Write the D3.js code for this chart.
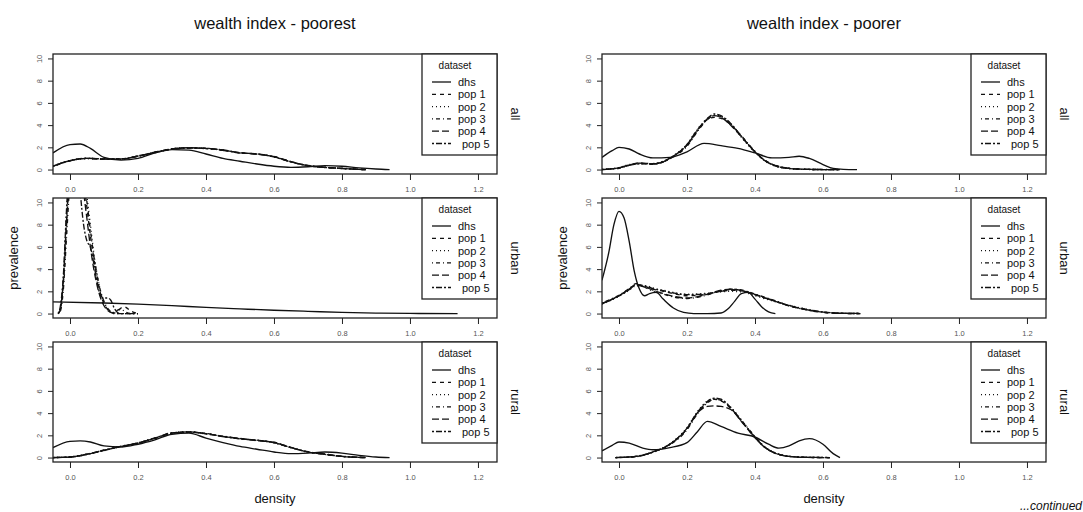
<!DOCTYPE html>
<meta charset="utf-8">
<title>wealth index density</title>
<style>
body { margin: 0; background: #fff; }
text { font-family: "Liberation Sans", Arial, sans-serif; fill: #111; }
.tick text { font-size: 7.5px; fill: #555; }
.tick line { stroke: #222; }
.box { fill: none; stroke: #222; stroke-width: 1.3; }
.curve { fill: none; stroke: #111; stroke-width: 1.35; }
.legend rect { fill: #fff; stroke: #222; stroke-width: 1.3; }
</style>
<svg width="1083" height="512"></svg>
<script src="https://cdnjs.cloudflare.com/ajax/libs/d3/7.8.5/d3.min.js"></script>
<script>

var groups = ["poorest", "poorer"];
var areas = ["all", "urban", "rural"];
var datasets = ["dhs", "pop 1", "pop 2", "pop 3", "pop 4", "pop 5"];
var xTicks = [0, 0.2, 0.4, 0.6, 0.8, 1.0, 1.2];
var yTicks = [0, 2, 4, 6, 8, 10];

// poorest - all
var poorestAllDhsX = [-0.05,0,0.03,0.06,0.1,0.15,0.2,0.25,0.3,0.35,0.4,0.45,0.5,0.55,0.6,0.65,0.7,0.75,0.8,0.85,0.9,0.94];
var poorestAllDhs  = [1.5,2.25,2.3,1.9,1.1,0.85,1.0,1.5,1.8,1.75,1.4,1.0,0.75,0.5,0.3,0.2,0.25,0.35,0.3,0.15,0.05,0];
var poorestAllPopX = [-0.05,0,0.05,0.1,0.15,0.2,0.25,0.3,0.35,0.4,0.45,0.5,0.55,0.6,0.65,0.7,0.75,0.8,0.85,0.87];
var poorestAllPop1 = [0.3,0.8,1.0,0.95,0.95,1.2,1.55,1.85,1.95,1.9,1.75,1.5,1.4,1.15,0.7,0.35,0.2,0.1,0.02,0];
var poorestAllPop2 = [0.32,0.82,0.98,0.97,0.92,1.25,1.5,1.88,1.98,1.87,1.78,1.48,1.42,1.12,0.72,0.33,0.22,0.08,0.03,0];
var poorestAllPop3 = [0.28,0.78,1.02,0.93,0.97,1.18,1.58,1.82,1.93,1.92,1.72,1.53,1.38,1.18,0.68,0.37,0.18,0.12,0.01,0];
var poorestAllPop4 = [0.3,0.8,1.0,0.96,0.94,1.22,1.53,1.86,1.96,1.89,1.76,1.51,1.39,1.16,0.71,0.34,0.21,0.09,0.02,0];
var poorestAllPop5 = [0.31,0.79,1.01,0.94,0.96,1.21,1.56,1.84,1.94,1.91,1.74,1.49,1.41,1.14,0.69,0.36,0.19,0.11,0.02,0];

// poorest - urban
var poorestUrbanDhsX = [-0.05,0.1,0.2,0.3,0.4,0.5,0.6,0.7,0.8,0.9,1.0,1.14];
var poorestUrbanDhs  = [1.05,0.95,0.85,0.72,0.55,0.42,0.3,0.2,0.1,0.04,0.01,0];
var poorestUrbanPopX = [-0.035,-0.03,-0.02,-0.01,0,0.01,0.02,0.03,0.04,0.05,0.06,0.07,0.08,0.09,0.1,0.11,0.12,0.13,0.14,0.15,0.16,0.18,0.2];
var poorestUrbanPop1 = [0,0.2,2.5,8,13,16,17,15,12,9.5,7,5,3.2,1.8,0.9,0.4,0.15,0.05,0.2,0.5,0.6,0.2,0];
var poorestUrbanPop2 = [0,0.3,3,9,14,17,18,16,13,10.5,8,5.5,3.5,2,1,0.4,0.1,0,0,0,0,0,0];
var poorestUrbanPop3 = [0,0.1,2,7,12,15,16,14.5,12.5,10,7.5,5.2,3.4,2,1.1,0.5,0.2,0.1,0.3,0.4,0.2,0,0];
var poorestUrbanPop4 = [0,0.2,2.8,8.5,13.5,16,16.5,14,11,8.5,6,4,2.5,1.4,0.7,0.3,0.1,0,0,0,0,0,0];
var poorestUrbanPop5 = [0,0.4,3.2,9.5,14.5,16,15,11,8,6.5,6,4.5,2.8,1.6,1.4,1.4,1.2,0.5,0.1,0,0,0,0];

// poorest - rural
var poorestRuralDhsX = [-0.05,0,0.03,0.06,0.1,0.15,0.2,0.25,0.3,0.35,0.4,0.45,0.5,0.55,0.6,0.65,0.7,0.75,0.8,0.85,0.9,0.94];
var poorestRuralDhs  = [0.9,1.45,1.5,1.4,1.05,0.95,1.2,1.6,2.1,2.2,1.75,1.35,1.0,0.75,0.5,0.35,0.4,0.5,0.4,0.2,0.05,0];
var poorestRuralPopX = [-0.05,0,0.05,0.1,0.15,0.2,0.25,0.3,0.35,0.4,0.45,0.5,0.55,0.6,0.65,0.7,0.75,0.8,0.85,0.87];
var poorestRuralPop1 = [0,0.05,0.3,0.65,1.0,1.3,1.75,2.2,2.3,2.15,1.9,1.7,1.55,1.35,0.9,0.5,0.3,0.1,0.02,0];
var poorestRuralPop2 = [0,0.06,0.32,0.62,1.03,1.28,1.78,2.18,2.33,2.12,1.93,1.68,1.57,1.32,0.92,0.48,0.32,0.09,0.03,0];
var poorestRuralPop3 = [0,0.04,0.28,0.68,0.97,1.33,1.72,2.23,2.28,2.18,1.88,1.73,1.52,1.38,0.88,0.52,0.28,0.12,0.01,0];
var poorestRuralPop4 = [0,0.05,0.31,0.66,0.99,1.31,1.74,2.21,2.31,2.14,1.91,1.71,1.54,1.36,0.91,0.49,0.31,0.1,0.02,0];
var poorestRuralPop5 = [0,0.05,0.29,0.64,1.01,1.29,1.76,2.19,2.29,2.16,1.89,1.69,1.56,1.34,0.89,0.51,0.29,0.11,0.02,0];

// poorer - all
var poorerAllDhsX = [-0.05,-0.02,0,0.03,0.06,0.1,0.15,0.2,0.25,0.3,0.35,0.4,0.45,0.5,0.53,0.56,0.6,0.63,0.66,0.7];
var poorerAllDhs  = [1.1,1.7,2.0,1.85,1.4,1.05,1.1,1.6,2.35,2.15,1.9,1.5,1.05,1.1,1.2,1.0,0.45,0.1,0.02,0];
var poorerAllPopX = [-0.05,0,0.03,0.06,0.1,0.13,0.16,0.2,0.23,0.26,0.28,0.3,0.33,0.36,0.4,0.43,0.46,0.5,0.55,0.6,0.65];
var poorerAllPop1 = [0,0.15,0.4,0.55,0.5,0.7,1.2,2.2,3.5,4.5,4.7,4.6,4.0,3.0,1.6,0.8,0.35,0.1,0.02,0,0];
var poorerAllPop2 = [0.02,0.18,0.45,0.5,0.55,0.72,1.25,2.3,3.6,4.6,4.9,4.8,4.1,2.9,1.55,0.75,0.3,0.08,0.01,0,0];
var poorerAllPop3 = [0,0.12,0.38,0.58,0.48,0.68,1.15,2.1,3.4,4.5,4.85,4.75,4.0,3.05,1.65,0.82,0.38,0.12,0.03,0.01,0];
var poorerAllPop4 = [0,0.15,0.42,0.6,0.52,0.7,1.2,2.25,3.55,4.55,4.85,4.7,3.95,2.95,1.6,0.78,0.33,0.1,0.02,0,0];
var poorerAllPop5 = [0.01,0.16,0.4,0.52,0.5,0.74,1.22,2.2,3.45,4.6,5.0,4.85,4.1,3.0,1.58,0.8,0.36,0.11,0.02,0,0];

// poorer - urban
var poorerUrbanDhsX = [-0.05,-0.03,-0.015,0,0.015,0.03,0.045,0.06,0.075,0.09,0.11,0.13,0.16,0.19,0.22,0.26,0.3,0.32,0.34,0.36,0.38,0.4,0.42,0.44,0.46];
var poorerUrbanDhs  = [3.0,5.5,8.0,9.2,8.6,6.5,3.8,2.2,1.6,1.8,1.9,1.3,0.5,0.1,0,0,0.05,0.4,1.1,1.8,1.9,1.3,0.6,0.15,0];
var poorerUrbanPopX = [-0.05,-0.02,0,0.03,0.05,0.08,0.1,0.13,0.16,0.2,0.25,0.3,0.33,0.37,0.4,0.45,0.5,0.55,0.6,0.65,0.71];
var poorerUrbanPop1 = [0.9,1.3,1.6,2.2,2.6,2.4,2.2,2.0,1.8,1.6,1.7,2.0,2.1,2.0,1.7,1.2,0.7,0.35,0.12,0.02,0];
var poorerUrbanPop2 = [0.85,1.25,1.55,2.1,2.5,2.5,2.3,2.1,1.9,1.75,1.8,1.95,2.0,1.9,1.6,1.15,0.75,0.4,0.15,0.03,0];
var poorerUrbanPop3 = [0.95,1.35,1.65,2.25,2.7,2.3,2.0,1.75,1.5,1.35,1.6,2.05,2.2,2.05,1.75,1.25,0.72,0.33,0.1,0.02,0];
var poorerUrbanPop4 = [0.9,1.3,1.6,2.2,2.55,2.35,2.1,1.8,1.55,1.4,1.65,2.1,2.2,2.0,1.7,1.2,0.7,0.36,0.13,0.04,0.01];
var poorerUrbanPop5 = [0.88,1.28,1.58,2.15,2.6,2.45,2.25,2.05,1.85,1.7,1.75,2.0,2.15,2.0,1.72,1.22,0.73,0.38,0.14,0.03,0];

// poorer - rural
var poorerRuralDhsX = [-0.05,-0.02,0,0.03,0.07,0.1,0.15,0.2,0.23,0.26,0.3,0.35,0.4,0.44,0.47,0.5,0.53,0.56,0.6,0.63,0.65];
var poorerRuralDhs  = [0.6,1.1,1.4,1.3,0.85,0.7,0.9,1.35,2.3,3.25,2.8,2.2,1.85,1.2,0.85,1.05,1.5,1.7,1.2,0.35,0];
var poorerRuralPopX = [-0.01,0.05,0.1,0.15,0.2,0.23,0.26,0.28,0.3,0.33,0.36,0.4,0.43,0.46,0.5,0.55,0.6,0.62];
var poorerRuralPop1 = [0,0.1,0.5,1.2,2.6,4.0,5.0,5.25,5.1,4.4,3.3,1.8,0.9,0.4,0.1,0.02,0,0];
var poorerRuralPop2 = [0,0.12,0.48,1.25,2.7,4.1,5.1,5.3,5.2,4.5,3.4,1.85,0.95,0.42,0.12,0.03,0.01,0];
var poorerRuralPop3 = [0,0.08,0.52,1.15,2.5,3.9,4.9,5.25,5.15,4.4,3.35,1.9,0.92,0.38,0.1,0.02,0,0];
var poorerRuralPop4 = [0,0.1,0.5,1.2,2.6,4.0,4.6,4.65,4.6,4.3,3.25,1.8,0.88,0.4,0.11,0.02,0,0];
var poorerRuralPop5 = [0,0.11,0.49,1.22,2.65,4.05,5.05,5.35,5.25,4.45,3.3,1.82,0.9,0.41,0.1,0.02,0.01,0];

// lookup table built from the arrays above
var table = {
  poorest: {
    all:   {dhs: [poorestAllDhsX, poorestAllDhs], popX: poorestAllPopX, pops: [poorestAllPop1, poorestAllPop2, poorestAllPop3, poorestAllPop4, poorestAllPop5]},
    urban: {dhs: [poorestUrbanDhsX, poorestUrbanDhs], popX: poorestUrbanPopX, pops: [poorestUrbanPop1, poorestUrbanPop2, poorestUrbanPop3, poorestUrbanPop4, poorestUrbanPop5]},
    rural: {dhs: [poorestRuralDhsX, poorestRuralDhs], popX: poorestRuralPopX, pops: [poorestRuralPop1, poorestRuralPop2, poorestRuralPop3, poorestRuralPop4, poorestRuralPop5]}
  },
  poorer: {
    all:   {dhs: [poorerAllDhsX, poorerAllDhs], popX: poorerAllPopX, pops: [poorerAllPop1, poorerAllPop2, poorerAllPop3, poorerAllPop4, poorerAllPop5]},
    urban: {dhs: [poorerUrbanDhsX, poorerUrbanDhs], popX: poorerUrbanPopX, pops: [poorerUrbanPop1, poorerUrbanPop2, poorerUrbanPop3, poorerUrbanPop4, poorerUrbanPop5]},
    rural: {dhs: [poorerRuralDhsX, poorerRuralDhs], popX: poorerRuralPopX, pops: [poorerRuralPop1, poorerRuralPop2, poorerRuralPop3, poorerRuralPop4, poorerRuralPop5]}
  }
};

// R lty 1..6
var dashes = ["none", "4,4", "1,3", "1,3,4,3", "7,3", "2,2,6,2"];

var svg = d3.select("svg");
var colLeft = [53, 602], boxW = 444, boxH = 120, rowTop = [54, 198, 342];

groups.forEach(function(grp, c) {
  var left = colLeft[c];
  var x = d3.scaleLinear().domain([-0.05, 1.256]).range([left, left + boxW]);

  svg.append("text")
      .attr("x", left + boxW / 2).attr("y", 29)
      .attr("text-anchor", "middle")
      .style("font-size", "16.5px")
      .text("wealth index - " + grp);

  areas.forEach(function(area, r) {
    var top = rowTop[r];
    var y = d3.scaleLinear().domain([-0.4, 10.4]).range([top + boxH, top]);
    var d = table[grp][area];
    var clipId = "clip-" + grp + "-" + area;

    svg.append("clipPath").attr("id", clipId)
      .append("rect").attr("x", left).attr("y", top).attr("width", boxW).attr("height", boxH);

    var gx = svg.append("g")
        .attr("transform", "translate(0," + (top + boxH) + ")")
        .call(d3.axisBottom(x).tickValues(xTicks).tickFormat(d3.format(".1f")).tickSize(6).tickPadding(7));
    gx.select(".domain").remove();

    var gy = svg.append("g")
        .attr("transform", "translate(" + left + ",0)")
        .call(d3.axisLeft(y).tickValues(yTicks).tickSize(5));
    gy.select(".domain").remove();
    gy.selectAll(".tick text")
        .attr("x", null)
        .attr("text-anchor", "middle")
        .attr("transform", "translate(-14,0) rotate(-90)")
        .attr("dy", "0.35em");

    var line = d3.line()
        .x(function(p) { return x(p[0]); })
        .y(function(p) { return y(p[1]); })
        .curve(d3.curveMonotoneX);

    var plot = svg.append("g").attr("clip-path", "url(#" + clipId + ")");

    d.pops.forEach(function(vals, i) {
      plot.append("path")
          .attr("class", "curve")
          .attr("stroke-dasharray", dashes[i + 1])
          .attr("d", line(d.popX.map(function(v, j) { return [v, vals[j]]; })));
    });
    plot.append("path")
        .attr("class", "curve")
        .attr("d", line(d.dhs[0].map(function(v, j) { return [v, d.dhs[1][j]]; })));

    svg.append("rect").attr("class", "box")
        .attr("x", left).attr("y", top).attr("width", boxW).attr("height", boxH);

    // legend
    var lg = svg.append("g").attr("class", "legend")
        .attr("transform", "translate(" + (left + boxW - 75) + "," + top + ")");
    lg.append("rect").attr("width", 75).attr("height", 101);
    lg.append("text").attr("x", 33).attr("y", 15)
        .attr("text-anchor", "middle").style("font-size", "10px").text("dataset");
    datasets.forEach(function(name, i) {
      var cy = 28 + i * 12.3;
      lg.append("line")
          .attr("x1", 10).attr("x2", 29).attr("y1", cy).attr("y2", cy)
          .attr("stroke", "#111").attr("stroke-width", 1.3)
          .attr("stroke-dasharray", dashes[i]);
      lg.append("text").attr("x", i === 5 ? 40 : 36).attr("y", cy + 4)
          .style("font-size", "11px").text(name);
    });

    // strip label
    svg.append("text")
        .attr("transform", "translate(" + (left + boxW + 14) + "," + (top + boxH / 2) + ") rotate(90)")
        .attr("text-anchor", "middle")
        .style("font-size", "13px")
        .text(area);

    if (area === "urban") {
      svg.append("text")
          .attr("transform", "translate(" + (left - 35) + "," + (top + boxH / 2) + ") rotate(-90)")
          .attr("text-anchor", "middle")
          .style("font-size", "13px")
          .text("prevalence");
    }
  });

  svg.append("text")
      .attr("x", left + boxW / 2).attr("y", 503)
      .attr("text-anchor", "middle")
      .style("font-size", "13px")
      .text("density");
});

svg.append("text")
    .attr("x", 1082).attr("y", 510)
    .attr("text-anchor", "end")
    .style("font-size", "12px").style("font-style", "italic")
    .text("...continued");

</script>
